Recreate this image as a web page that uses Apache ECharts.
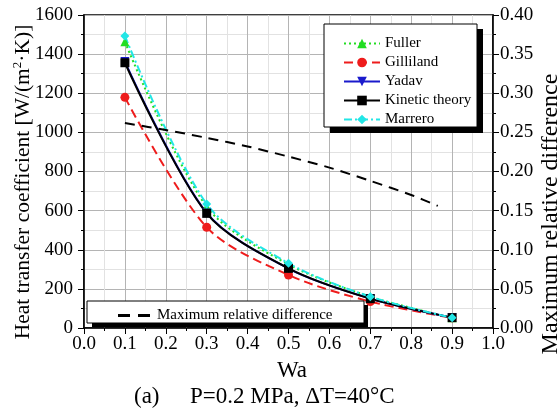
<!DOCTYPE html>
<html><head><meta charset="utf-8">
<script src="https://cdn.jsdelivr.net/npm/echarts@6/dist/echarts.min.js"></script>
<style>html,body{margin:0;padding:0;background:#fff}#c{width:557px;height:412px}</style>
</head><body><div id="c"></div>
<script>
const wa = [0.1, 0.3, 0.5, 0.7, 0.9];
const fuller = [1463, 620, 325, 160, 52];
const gilliland = [1179, 515, 271, 135, 52];
const yadav = [1362, 588, 304, 151, 53];
const kinetic = [1356, 586, 305, 150, 53];
const marrero = [1493, 634, 331, 160, 52];
const mrdX = [0.1, 0.2, 0.3, 0.4, 0.5, 0.6, 0.7, 0.8, 0.865];
const mrd = [0.262, 0.253, 0.243, 0.232, 0.219, 0.205, 0.188, 0.170, 0.156];
const xTicks = ['0.0','0.1','0.2','0.3','0.4','0.5','0.6','0.7','0.8','0.9','1.0'];

const pair = (xs, ys) => xs.map((x, i) => [x, ys[i]]);
const serif = 'Liberation Serif, Times New Roman, serif';
const chart = echarts.init(document.getElementById('c'));
const mk = (name, data, color, symbol, type, smooth) => ({
  name, type: 'line', data: pair(wa, data), symbol, symbolSize: 9, smooth: smooth,
  lineStyle: { color, width: 2, type }, itemStyle: { color }
});
chart.setOption({
  animation: false,
  grid: { left: 84, right: 64, top: 15, bottom: 84, show: true, borderColor: '#000', borderWidth: 1.5 },
  xAxis: {
    type: 'value', min: 0, max: 1, interval: 0.1,
    axisLine: { show: true, lineStyle: { color: '#000', width: 1.5 } },
    axisTick: { show: true, inside: false, length: 6, lineStyle: { color: '#000' } },
    minorTick: { show: true, splitNumber: 2, length: 3, lineStyle: { color: '#000' } },
    splitLine: { show: true, lineStyle: { color: '#b4b4b4', width: 1 } },
    minorSplitLine: { show: true, lineStyle: { color: '#e2e2e2', width: 1 } },
    axisLabel: { color: '#000', fontFamily: serif, fontSize: 19, margin: 7,
      formatter: v => xTicks[Math.round(v * 10)] }
  },
  yAxis: [{
    type: 'value', min: 0, max: 1600, interval: 200,
    axisLine: { show: true, lineStyle: { color: '#000', width: 1.5 } },
    axisTick: { show: true, length: 6, lineStyle: { color: '#000' } },
    minorTick: { show: true, splitNumber: 2, length: 3, lineStyle: { color: '#000' } },
    splitLine: { show: true, lineStyle: { color: '#b4b4b4', width: 1 } },
    minorSplitLine: { show: true, lineStyle: { color: '#e2e2e2', width: 1 } },
    axisLabel: { color: '#000', fontFamily: serif, fontSize: 19, margin: 11, formatter: v => String(v) }
  }, {
    type: 'value', min: 0, max: 0.4, interval: 0.05, position: 'right',
    axisLine: { show: true, lineStyle: { color: '#000', width: 1.5 } },
    axisTick: { show: true, length: 6, lineStyle: { color: '#000' } },
    minorTick: { show: true, splitNumber: 2, length: 3, lineStyle: { color: '#000' } },
    splitLine: { show: false },
    axisLabel: { color: '#000', fontFamily: serif, fontSize: 19, margin: 7, formatter: v => v.toFixed(2) }
  }],
  legend: [{
    left: 338, top: 31, orient: 'vertical', itemGap: 4, itemWidth: 36, itemHeight: 12,
    data: ['Fuller', 'Gilliland', 'Yadav', 'Kinetic theory', 'Marrero'],
    textStyle: { fontFamily: serif, fontSize: 15, color: '#000' }, z: 10
  }, {
    left: 113, top: 303, itemWidth: 32, itemHeight: 3, itemGap: 0,
    data: [{ name: 'Maximum relative difference', icon: 'path://M0,0L12,0L12,3L0,3Z M20,0L32,0L32,3L20,3Z' }],
    textStyle: { fontFamily: serif, fontSize: 15, color: '#000', padding: [0, 0, 0, 2] }, z: 10
  }],
  graphic: [
    { type: 'rect', z: 8, shape: { x: 330, y: 29, width: 153, height: 104 }, style: { fill: '#000' } },
    { type: 'rect', z: 9, shape: { x: 324, y: 24, width: 153, height: 103 }, style: { fill: '#fff', stroke: '#000', lineWidth: 1 } },
    { type: 'rect', z: 8, shape: { x: 92, y: 305, width: 276, height: 22 }, style: { fill: '#000' } },
    { type: 'rect', z: 9, shape: { x: 87, y: 301, width: 277, height: 22 }, style: { fill: '#fff', stroke: '#000', lineWidth: 1 } },
    { type: 'text', z: 10, x: 23, y: 182, rotation: Math.PI / 2,
      style: { text: '{a|Heat transfer coefficient [W/(m}{s|2}{a|·K)]}', align: 'center', verticalAlign: 'middle',
        rich: { a: { fontFamily: serif, fontSize: 21.5, fill: '#000' }, s: { fontFamily: serif, fontSize: 13, fill: '#000', verticalAlign: 'top', padding: [0,0,10,0] } } } },
    { type: 'text', z: 10, x: 551, y: 214, rotation: Math.PI / 2,
      style: { text: 'Maximum relative difference', align: 'center', verticalAlign: 'middle', fontFamily: serif, fontSize: 24, fill: '#000' } },
    { type: 'text', z: 10, x: 292, y: 371,
      style: { text: 'Wa', align: 'center', verticalAlign: 'middle', fontFamily: serif, fontSize: 23, fill: '#000' } },
    { type: 'text', z: 10, x: 134, y: 397,
      style: { text: '(a)', align: 'left', verticalAlign: 'middle', fontFamily: serif, fontSize: 23, fill: '#000' } },
    { type: 'text', z: 10, x: 190, y: 397,
      style: { text: 'P=0.2 MPa, ΔT=40°C', align: 'left', verticalAlign: 'middle', fontFamily: serif, fontSize: 23, fill: '#000' } }
  ],
  series: [
    mk('Fuller', fuller, '#22dd22', 'triangle', [2, 3], 0.3),
    mk('Gilliland', gilliland, '#ee1c1c', 'circle', [9, 5], 0.3),
    Object.assign(mk('Yadav', yadav, '#1a1acc', 'triangle', 'solid', 0.3), { symbolRotate: 180 }),
    mk('Kinetic theory', kinetic, '#000000', 'rect', 'solid', 0.3),
    mk('Marrero', marrero, '#22e6e6', 'diamond', [8, 3, 2, 3], 0.3),
    { name: 'Maximum relative difference', type: 'line', yAxisIndex: 1, data: pair(mrdX, mrd),
      symbol: 'none', smooth: 0.3, lineStyle: { color: '#000', width: 2, type: [10, 7] }, itemStyle: { color: '#000' } }
  ]
});
</script></body></html>
